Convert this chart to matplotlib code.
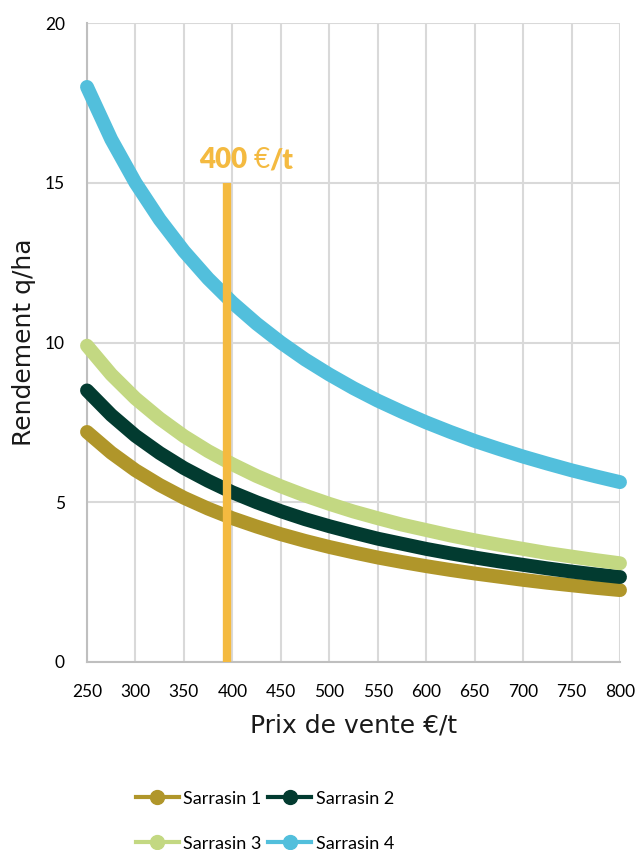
import matplotlib
matplotlib.use("Agg")
import matplotlib.pyplot as plt
from matplotlib.offsetbox import TextArea, HPacker, AnnotationBbox

# prix de vente (euros / t)
prix = [250, 275, 300, 325, 350, 375, 400, 425, 450, 475, 500, 525,
        550, 575, 600, 625, 650, 675, 700, 725, 750, 775, 800]

# rendement d'equilibre (q/ha)
sarrasin1 = [7.20, 6.55, 6.00, 5.54, 5.14, 4.80, 4.50, 4.24, 4.00, 3.79, 3.60, 3.43,
             3.27, 3.13, 3.00, 2.88, 2.77, 2.67, 2.57, 2.48, 2.40, 2.32, 2.25]
sarrasin2 = [8.50, 7.73, 7.08, 6.54, 6.07, 5.67, 5.31, 5.00, 4.72, 4.47, 4.25, 4.05,
             3.86, 3.70, 3.54, 3.40, 3.27, 3.15, 3.04, 2.93, 2.83, 2.74, 2.66]
sarrasin3 = [9.90, 9.00, 8.25, 7.62, 7.07, 6.60, 6.19, 5.82, 5.50, 5.21, 4.95, 4.71,
             4.50, 4.30, 4.13, 3.96, 3.81, 3.67, 3.54, 3.41, 3.30, 3.19, 3.09]
sarrasin4 = [18.00, 16.36, 15.00, 13.85, 12.86, 12.00, 11.25, 10.59, 10.00, 9.47, 9.00, 8.57,
             8.18, 7.83, 7.50, 7.20, 6.92, 6.67, 6.43, 6.21, 6.00, 5.81, 5.63]

series = [("Sarrasin 1", sarrasin1, "#B0962A"),
          ("Sarrasin 2", sarrasin2, "#023B30"),
          ("Sarrasin 3", sarrasin3, "#C3D882"),
          ("Sarrasin 4", sarrasin4, "#52BFDC")]

prix_ref = 394
ref_haut = 15
orange = "#F4BA40"

plt.rcParams['font.family'] = ['Lato', 'DejaVu Sans']

fig = plt.figure(figsize=(6.37, 8.5), dpi=100)
ax = fig.add_axes([0.1366, 0.2212, 0.8367, 0.7517])

for nom, vals, col in series:
    ax.plot(prix, vals, color=col, lw=10, solid_capstyle='round', clip_on=False, zorder=3)

# ligne de reference 400 euros/t
ax.plot([prix_ref, prix_ref], [0, ref_haut], color=orange, lw=6, solid_capstyle='butt', zorder=4)
morceaux = [TextArea("400 ", textprops=dict(color=orange, fontsize=20, fontweight='heavy')),
            TextArea("€", textprops=dict(color=orange, fontsize=20, fontweight='normal')),
            TextArea("/t", textprops=dict(color=orange, fontsize=20, fontweight='heavy'))]
etiquette = HPacker(children=morceaux, pad=0, sep=0, align='baseline')
ax.add_artist(AnnotationBbox(etiquette, (prix_ref + 20, 15.7), frameon=False,
                             box_alignment=(0.5, 0.5), zorder=5))

ax.set_xlim(250, 800)
ax.set_ylim(0, 20)
ax.set_xticks(range(250, 801, 50))
ax.set_yticks([0, 5, 10, 15, 20])
ax.grid(True, color="#D9D9D9", lw=1.5)
ax.set_axisbelow(True)
for s in ["top", "right"]:
    ax.spines[s].set_visible(False)
for s in ["left", "bottom"]:
    ax.spines[s].set_color("#BFBFBF")
    ax.spines[s].set_linewidth(1.5)
ax.tick_params(length=0, labelsize=12.5)
ax.tick_params(axis='x', pad=16)
ax.tick_params(axis='y', pad=16)

ax.set_xlabel("Prix de vente €/t", fontsize=18, family='DejaVu Sans', color="#1a1a1a")
ax.set_ylabel("Rendement q/ha", fontsize=18, family='DejaVu Sans', color="#1a1a1a")
ax.xaxis.set_label_coords(0.5, -0.08)
ax.yaxis.set_label_coords(-0.096, 0.5)

# legende remplie par lignes : 1 2 / 3 4
ordre = [0, 2, 1, 3]
handles = [plt.Line2D([], [], color=series[i][2], lw=3, marker='o', markersize=10) for i in ordre]
labels = [series[i][0] for i in ordre]
fig.legend(handles, labels, loc='center', bbox_to_anchor=(0.416, 0.034),
           ncol=2, frameon=False, fontsize=13, handlelength=2.4, handletextpad=0.25,
           columnspacing=0.35, labelspacing=1.6)

fig.savefig("out.png", dpi=100)
